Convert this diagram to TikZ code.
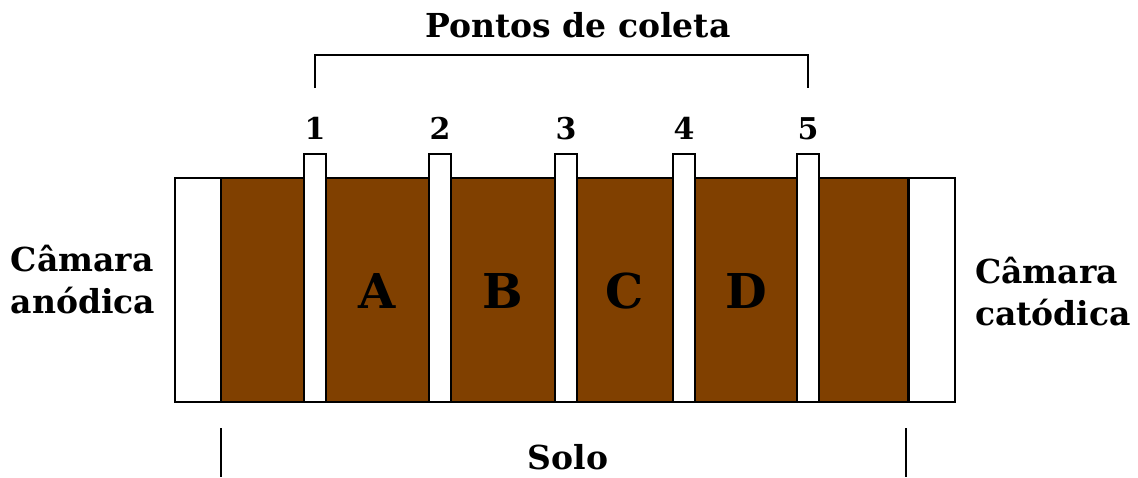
\documentclass[tikz,border=0pt]{standalone}
\usepackage{fontspec}
\setmainfont{DejaVu Serif}
\usetikzlibrary{positioning}
\definecolor{soilbrown}{RGB}{128,64,0}
\tikzset{
  chamber/.style={draw=black, line width=2pt, fill=white, rectangle,
    minimum width=46pt, minimum height=224pt, inner sep=0pt},
  soilbox/.style={draw=black, line width=2pt, fill=soilbrown, rectangle,
    minimum width=687pt, minimum height=224pt, inner sep=0pt},
  probe/.style={draw=black, line width=2pt, fill=white, rectangle,
    minimum width=22pt, minimum height=248pt, inner sep=0pt},
  bigtext/.style={font=\bfseries\fontsize{33}{42}\selectfont, align=left, inner sep=0pt},
  numtext/.style={font=\bfseries\fontsize{30}{32}\selectfont, inner sep=0pt},
  zonetext/.style={font=\bfseries\fontsize{48}{52}\selectfont, inner sep=0pt},
  bracket/.style={draw=black, line width=2pt}
}

\begin{document}
\begin{tikzpicture}[x=1pt, y=-1pt]
  \useasboundingbox (0,0) rectangle (1138,477);
  % chambers and soil
  \node[chamber] (anode) at (198,290) {};
  \node[soilbox] (soil) at (564.5,290) {};
  \node[chamber] (cathode) at (931.5,290) {};
  % collection probes
  \node[probe] (p1) at (315,278) {};
  \node[probe] (p2) at (440,278) {};
  \node[probe] (p3) at (566,278) {};
  \node[probe] (p4) at (684,278) {};
  \node[probe] (p5) at (808,278) {};
  \foreach \i in {1,...,5}
    \node[numtext, above=14pt of p\i.north, anchor=base] (n\i) {\i};
  % soil zones
  \node[zonetext] (zA) at (377,291) {A};
  \node[zonetext] (zB) at (503,291) {B};
  \node[zonetext] (zC) at (625,291) {C};
  \node[zonetext] (zD) at (746,291) {D};
  % labels
  \node[bigtext] (title) at (578,25) {Pontos de coleta};
  \node[bigtext] (lanode) at (83,280) {Câmara\\anódica};
  \node[bigtext] (lcathode) at (1053,292) {Câmara\\catódica};
  \node[bigtext] (solo) at (568,457) {Solo};
  % brackets
  \coordinate (b1) at (315,88);
  \coordinate (b5) at (808,88);
  \draw[bracket] (b1) -- (b1 |- 0,55) -- (b5 |- 0,55) -- (b5);
  \coordinate (s1) at (221,428);
  \coordinate (s2) at (906,428);
  \draw[bracket] (s1) -- (s1 |- 0,477);
  \draw[bracket] (s2) -- (s2 |- 0,477);
\end{tikzpicture}
\end{document}
